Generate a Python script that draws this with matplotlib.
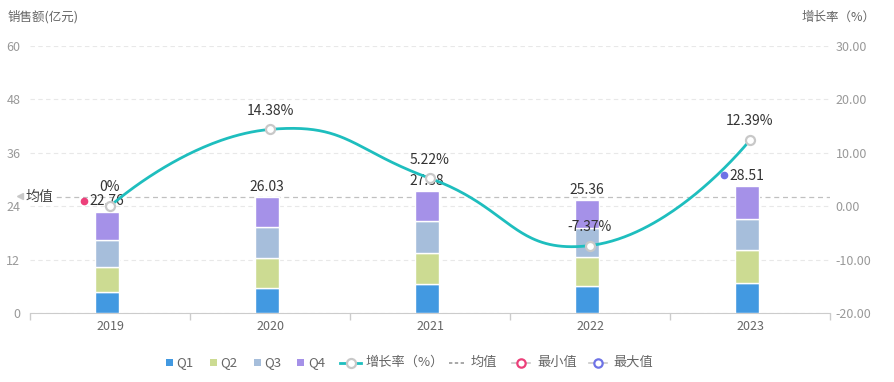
import numpy as np
import matplotlib
matplotlib.use('Agg')
import matplotlib.pyplot as plt
from matplotlib.lines import Line2D
from matplotlib.patches import Rectangle

plt.rcParams['font.family'] = ['Noto Sans CJK SC', 'DejaVu Sans']

years = ['2019', '2020', '2021', '2022', '2023']
q1 = [4.8, 5.7, 6.5, 6.0, 6.8]
q2 = [5.6, 6.6, 7.0, 6.5, 7.4]
q3 = [6.1, 7.0, 7.1, 6.7, 6.9]
q4 = [6.26, 6.73, 6.78, 6.16, 7.41]
growth = [0, 14.38, 5.22, -7.37, 12.39]
growth_labels = ['0%', '14.38%', '5.22%', '-7.37%', '12.39%']
left_ticks = [0, 12, 24, 36, 48, 60]
right_ticks = [-20, -10, 0, 10, 20, 30]
series_names = ['Q1', 'Q2', 'Q3', 'Q4']
colors = ['#4299e1', '#ccdb92', '#a6bedb', '#a591e8']
line_color = '#1ebebe'
min_color = '#ec407a'
max_color = '#6e73e6'

W, H = 894, 382
fig = plt.figure(figsize=(W / 100, H / 100), dpi=100)
ax = fig.add_axes([30 / W, 1 - 313 / H, 800 / W, 267 / H])
ax2 = ax.twinx()

x = np.arange(len(years))
ax.set_xlim(-0.5, len(years) - 0.5)
ax.set_ylim(left_ticks[0], left_ticks[-1])
ax2.set_ylim(right_ticks[0], right_ticks[-1])

# stacked bars
quarters = [q1, q2, q3, q4]
bottom = np.zeros(len(years))
bx = x - 0.02
for q, c in zip(quarters, colors):
    ax.bar(bx, q, width=0.15, bottom=bottom, color=c, edgecolor='white',
           linewidth=1.0, zorder=3)
    bottom = bottom + np.array(q)
totals = bottom

for xi, t in zip(bx, totals):
    ax.annotate(f'{t:.2f}', (xi, t), xytext=(0, 2.5), textcoords='offset points',
                ha='center', va='bottom', fontsize=10, color='#333333', zorder=5)

# min / max markpoints
imin = int(np.argmin(totals))
imax = int(np.argmax(totals))
ax.plot(bx[imin] - 0.14, totals[imin] + 2.5, 'o', ms=4.5, color=min_color,
        zorder=6, clip_on=False)
ax.plot(bx[imax] - 0.14, totals[imax] + 2.5, 'o', ms=4.5, color=max_color,
        zorder=6, clip_on=False)

# mean line
mean = float(np.mean(totals))
ax.plot([-0.5, len(years) - 0.5], [mean, mean], ls=(0, (4, 3)), lw=0.9,
        color='#c0c0c0', zorder=2)
ax.plot([-0.5 - 10 / 160], [mean + 0.3], marker='<', ms=4, color='#c8c8c8',
        clip_on=False, zorder=2)
ax.text(-0.5 - 4 / 160, mean, '均值', ha='left', va='center', fontsize=10,
        color='#444444', zorder=4,
        bbox=dict(facecolor='white', edgecolor='none', pad=0.5))

# smooth growth line (echarts-like bezier smoothing in display space)
P = ax2.transData.transform(np.column_stack([x, growth]))


def smooth_path(P, smooth=0.5):
    out = [P[0]]
    cp0 = P[0].copy()
    n = len(P)
    t = np.linspace(0, 1, 80)[1:, None]
    for k in range(1, n):
        prev, cur = P[k - 1], P[k]
        if k == n - 1:
            v = np.zeros(2)
            r = 0.5
            ncp = cur.copy()
        else:
            nxt = P[k + 1]
            v = nxt - prev
            l0 = np.hypot(*(cur - prev))
            l1 = np.hypot(*(nxt - cur))
            r = l1 / (l0 + l1)
            ncp = cur - v * smooth * (1 - r)
        b = ((1 - t) ** 3) * prev + 3 * ((1 - t) ** 2) * t * cp0 + \
            3 * (1 - t) * t ** 2 * ncp + t ** 3 * cur
        out.extend(b)
        cp0 = cur + v * smooth * r
    return np.array(out)


curve = ax2.transData.inverted().transform(smooth_path(P))
ax2.plot(curve[:, 0], curve[:, 1], color=line_color, lw=2.0, zorder=5,
         solid_capstyle='round')
ax2.plot(x, growth, 'o', ms=6.5, mfc='white', mec='#c8c8c8', mew=1.6, zorder=6)
for xi, g, lab in zip(x, growth, growth_labels):
    ax2.annotate(lab, (xi, g), xytext=(0, 8.5), textcoords='offset points',
                 ha='center', va='bottom', fontsize=10, color='#333333', zorder=7)

# axes styling
ax.set_yticks(left_ticks)
ax.set_yticklabels([str(v) for v in left_ticks])
ax2.set_yticks(right_ticks)
ax2.set_yticklabels([f'{v:.2f}' for v in right_ticks])
ax.grid(axis='y', ls=(0, (4, 3)), color='#e8e8e8', lw=0.8, zorder=0)
ax.set_axisbelow(True)
for a in (ax, ax2):
    for s in ['top', 'left', 'right']:
        a.spines[s].set_visible(False)
    a.spines['bottom'].set_color('#cccccc')
ax2.spines['bottom'].set_visible(False)
ax.tick_params(axis='y', length=0, pad=7, labelsize=9, labelcolor='#999999')
ax2.tick_params(axis='y', length=0, pad=4, labelsize=9, labelcolor='#999999')
ax.set_xticks(x)
ax.set_xticklabels(years)
ax.set_xticks(np.arange(-0.5, len(years), 1.0), minor=True)
ax.tick_params(axis='x', which='major', length=0, pad=5, labelsize=9,
               labelcolor='#666666')
ax.tick_params(axis='x', which='minor', length=5, color='#cccccc', width=1)

fig.text(8 / W, 1 - 17 / H, '销售额(亿元)', ha='left', va='center', fontsize=9,
         color='#666666')
fig.text(876 / W, 1 - 17 / H, '增长率（%）', ha='right', va='center', fontsize=9,
         color='#666666')

# legend (manual, in figure pixel coords)
ly = 1 - 362.5 / H


def fx(px):
    return px / W


tf = fig.transFigure
for name, c, px in zip(series_names, colors, [165.5, 209.5, 253.5, 297]):
    fig.add_artist(Rectangle((fx(px), ly - 3.5 / H), 7 / W, 7 / H,
                             facecolor=c, edgecolor='none', transform=tf))
    fig.text(fx(px + 11), ly, name, ha='left', va='center', fontsize=9.5,
             color='#666666')

fig.add_artist(Line2D([fx(340), fx(361)], [ly, ly], color=line_color, lw=2,
                      transform=tf))
fig.add_artist(Line2D([fx(350.5)], [ly], marker='o', ms=6.5, mfc='white',
                      mec='#c8c8c8', mew=1.6, transform=tf))
fig.text(fx(365), ly, '增长率（%）', ha='left', va='center', fontsize=9.5,
         color='#666666')

fig.add_artist(Line2D([fx(449), fx(464)], [ly, ly], color='#999999', lw=1.2,
                      ls=(0, (2, 1.5)), transform=tf))
fig.text(fx(471), ly, '均值', ha='left', va='center', fontsize=9.5,
         color='#666666')

for px, c, name in [(512, min_color, '最小值'), (588.5, max_color, '最大值')]:
    fig.add_artist(Line2D([fx(px), fx(px + 18)], [ly, ly], color='#c8c8c8',
                          lw=1.2, transform=tf))
    fig.add_artist(Line2D([fx(px + 9)], [ly], marker='o', ms=6, mfc='white',
                          mec=c, mew=1.6, transform=tf))
    fig.text(fx(px + 25), ly, name, ha='left', va='center', fontsize=9.5,
             color='#666666')

fig.savefig('out.png', dpi=100)
